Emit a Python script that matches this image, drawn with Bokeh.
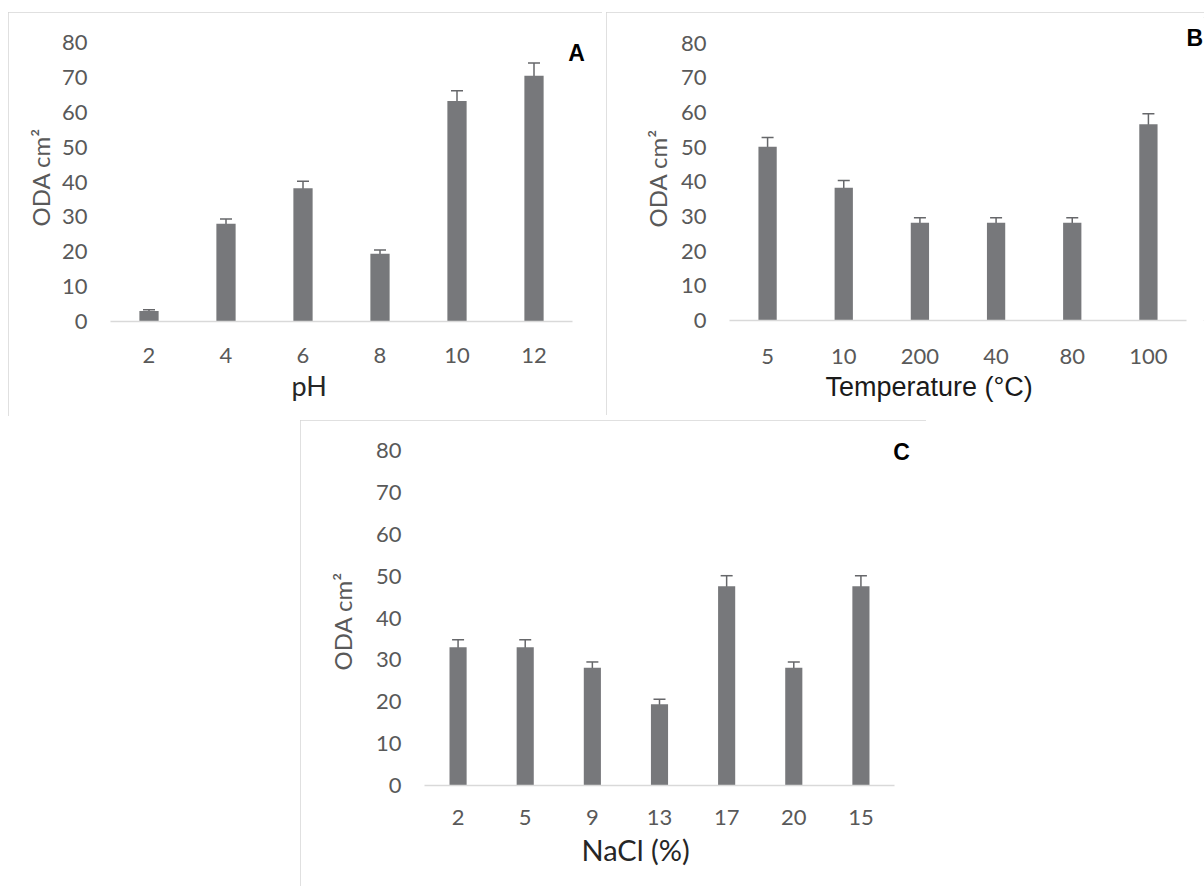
from bokeh.plotting import figure
from bokeh.models import (ColumnDataSource, Range1d, FixedTicker,
                          Whisker, TeeHead, Label, Title)
from bokeh.layouts import column, row
from bokeh.embed import file_html
from bokeh.resources import INLINE

# ---- data ----
ph_cats = ["2", "4", "6", "8", "10", "12"]
ph_vals = [3.0, 28.0, 38.2, 19.4, 63.2, 70.5]
ph_errs = [0.4, 1.4, 2.0, 1.1, 3.0, 3.6]

temp_cats = ["5", "10", "200", "40", "80", "100"]
temp_vals = [50.1, 38.3, 28.2, 28.2, 28.2, 56.6]
temp_errs = [2.7, 2.1, 1.4, 1.4, 1.4, 3.0]

nacl_cats = ["2", "5", "9", "13", "17", "20", "15"]
nacl_vals = [33.0, 33.0, 28.1, 19.4, 47.6, 28.1, 47.6]
nacl_errs = [1.8, 1.8, 1.4, 1.2, 2.5, 1.4, 2.5]

y_ticks = list(range(0, 90, 10))
y_title = "ODA cm\u00b2"
Y_MAX_TICK = 80

BAR = "#77787b"
ERR = "#66676a"
TICK = "#595959"


def panel(cats, vals, errs, xtitle, letter, w, h, borders, base_px, extra_px,
          axis_px, top_extra_px, letter_pos, bar_w, xtitle_font, xtitle_size,
          xtitle_color, xtitle_offset, xtitle_standoff, xtick_standoff,
          ytitle_standoff, ytitle_offset, letter_align="center"):
    left, right, top, bottom = borders
    n = len(cats)
    xs = list(range(n))
    unit = base_px / n
    yunit = axis_px / Y_MAX_TICK
    p = figure(x_range=Range1d(-0.5, n - 0.5 + extra_px / unit),
               y_range=Range1d(0, Y_MAX_TICK + top_extra_px / yunit),
               width=w, height=h,
               output_backend="svg", toolbar_location=None,
               min_border_left=left, min_border_right=right,
               min_border_top=top, min_border_bottom=bottom)
    src = ColumnDataSource(dict(
        x=xs, top=vals,
        upper=[v + e for v, e in zip(vals, errs)],
        lower=[v - e for v, e in zip(vals, errs)]))
    p.vbar(x="x", top="top", width=bar_w, source=src,
           fill_color=BAR, line_color=None)
    wk = Whisker(base="x", upper="upper", lower="lower", source=src,
                 dimension="height", line_color=ERR, line_width=1.5,
                 upper_head=TeeHead(size=12, line_color=ERR, line_width=1.5),
                 lower_head=TeeHead(size=12, line_color="#8a8b8e", line_width=1))
    p.add_layout(wk)

    p.xgrid.grid_line_color = None
    p.ygrid.grid_line_color = None
    p.outline_line_color = None
    p.background_fill_color = "white"
    p.border_fill_color = "white"

    ya = p.yaxis[0]
    ya.ticker = FixedTicker(ticks=y_ticks)
    ya.axis_line_color = None
    ya.major_tick_line_color = None
    ya.minor_tick_line_color = None
    ya.major_label_standoff = 17
    ya.major_label_text_font = "Lato"
    ya.major_label_text_font_size = "22px"
    ya.major_label_text_color = TICK

    p.add_layout(Title(text=y_title, align="left", offset=ytitle_offset,
                       standoff=ytitle_standoff, text_font="Lato",
                       text_font_size="24px", text_font_style="normal",
                       text_color=TICK), "left")

    xa = p.xaxis[0]
    xa.ticker = FixedTicker(ticks=xs)
    xa.major_label_overrides = {i: c for i, c in zip(xs, cats)}
    xa.bounds = (-0.5, n - 0.5)
    xa.axis_line_color = "#d9d9d9"
    xa.axis_line_width = 1.5
    xa.major_tick_line_color = None
    xa.minor_tick_line_color = None
    xa.major_label_standoff = xtick_standoff
    xa.major_label_text_font = "Lato"
    xa.major_label_text_font_size = "22px"
    xa.major_label_text_color = TICK

    p.add_layout(Title(text=xtitle, align="left", offset=xtitle_offset,
                       standoff=xtitle_standoff, text_font=xtitle_font,
                       text_font_size=xtitle_size, text_font_style="normal",
                       text_color=xtitle_color), "below")

    lx, ly = letter_pos
    p.add_layout(Label(x=lx, y=ly, x_units="screen", y_units="screen",
                       text=letter, text_font="Liberation Sans",
                       text_font_style="bold", text_font_size="23px",
                       text_color="black", text_align=letter_align,
                       text_baseline="middle"))
    p.styles = {"outline": "1px solid #d6d6d6", "outline-offset": "-1px"}
    return p


pA = panel(ph_cats, ph_vals, ph_errs, "pH", "A", 594, 404,
           (102, 8, 5, 95), 462, 22, 279, 25, (466, 269), 0.25,
           "Lato", "27px", "#262626", 181, 2, 20, 8, 95)
pA.margin = (12, 0, 0, 8)

pB = panel(temp_cats, temp_vals, temp_errs, "Temperature (\u00b0C)", "B", 598, 403,
           (123, 0, 5, 90), 457, 18, 282, 26, (457, 283), 0.24,
           "Liberation Sans", "27px", "#1a1a1a", 96, 7, 22, 12, 93,
           letter_align="left")
pB.margin = (12, 0, 0, 4)

pC = panel(nacl_cats, nacl_vals, nacl_errs, "NaCl (%)", "C", 626, 466,
           (124, 10, 5, 101), 470, 22, 335, 25, (477, 334), 0.255,
           "Lato", "29px", "#262626", 157, 5, 18, 32, 115)
pC.margin = (4, 0, 0, 300)

layout = column(row(pA, pB), pC)
open("out.html", "w").write(file_html(layout, INLINE))
